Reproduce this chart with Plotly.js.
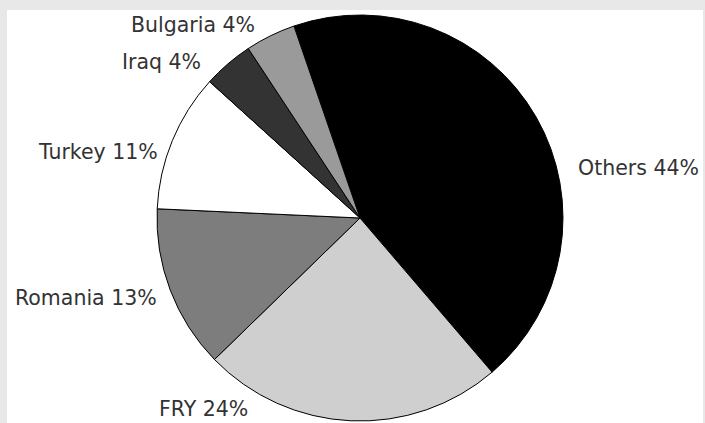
<!DOCTYPE html>
<html>
<head>
<meta charset="utf-8">
<script src="https://cdn.plot.ly/plotly-3.0.1.min.js"></script>
<style>
  html, body { margin: 0; padding: 0; background: #e8e8e8; width: 705px; height: 423px; overflow: hidden; }
  #chart { position: absolute; left: 7px; top: 10px; width: 696px; height: 413px; overflow: hidden; background: #fff; }
</style>
</head>
<body>
<div id="chart"></div>
<script>
// Data
const labels = ['Others', 'FRY', 'Romania', 'Turkey', 'Iraq', 'Bulgaria'];
const values = [44, 24, 13, 11, 4, 4];
const sliceColors = ['#000000', '#cfcfcf', '#7d7d7d', '#ffffff', '#333333', '#9a9a9a'];

// Label placement (paper coords) and anchoring
const labelX = [0.8175, 0.2155, 0.2184, 0.2198, 0.2816, 0.3592];
const labelY = [0.6174, 0.0339, 0.3027, 0.6562, 0.8741, 0.9637];
const labelAnchor = ['left', 'left', 'right', 'right', 'right', 'right'];

const trace = {
  type: 'pie',
  labels: labels,
  values: values,
  sort: false,
  direction: 'clockwise',
  rotation: -19,
  marker: { colors: sliceColors, line: { color: '#000000', width: 1 } },
  textinfo: 'none',
  hoverinfo: 'none',
  showlegend: false,
  domain: { x: [150 / 696, 556 / 696], y: [2 / 413, 408 / 413] }
};

const annotations = labels.map((l, i) => ({
  text: l + ' ' + values[i] + '%',
  x: labelX[i], y: labelY[i],
  xref: 'paper', yref: 'paper',
  xanchor: labelAnchor[i], yanchor: 'middle',
  showarrow: false,
  font: { family: 'DejaVu Sans', size: 20.5, color: '#333333' }
}));

const layout = {
  width: 696, height: 413,
  margin: { l: 0, r: 0, t: 0, b: 0 },
  paper_bgcolor: '#ffffff',
  showlegend: false,
  annotations: annotations
};

Plotly.newPlot('chart', [trace], layout, { staticPlot: true, displayModeBar: false });
</script>
</body>
</html>
